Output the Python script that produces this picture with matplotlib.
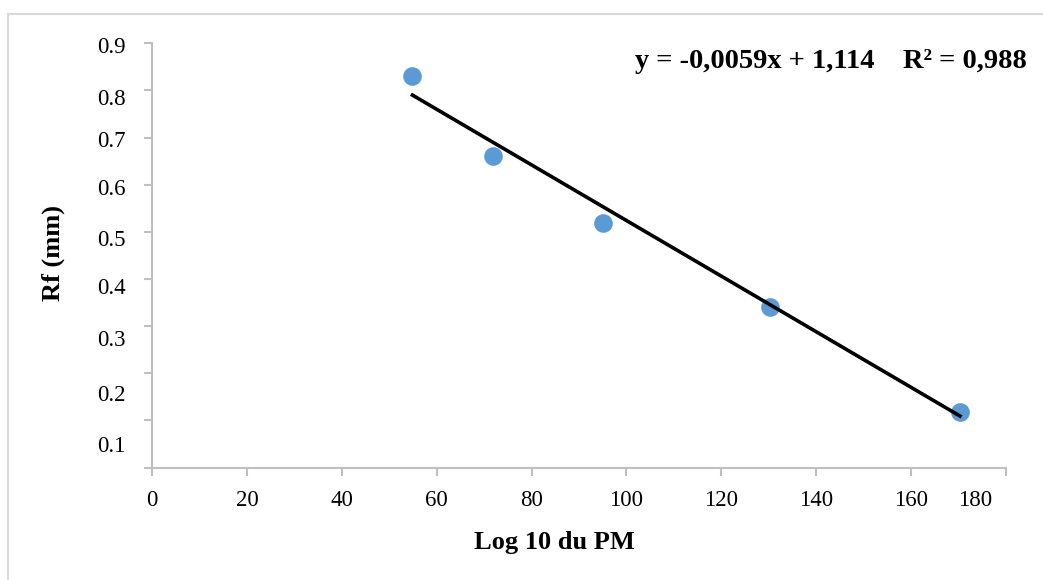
import numpy as np
import matplotlib.pyplot as plt
from matplotlib.lines import Line2D

plt.rcParams['font.family'] = ['Liberation Serif', 'DejaVu Serif']

# data
pm = [54.9, 71.9, 95.1, 130.2, 170.3]
rf = [0.830, 0.660, 0.519, 0.340, 0.117]
slope = -0.0059
intercept = 1.114
eq_text = 'y = -0,0059x + 1,114    R² = 0,988'

x_ticks = [0, 20, 40, 60, 80, 100, 120, 140, 160, 180]
y_ticks = [0.0, 0.1, 0.2, 0.3, 0.4, 0.5, 0.6, 0.7, 0.8, 0.9]
y_labels = ['0.1', '0.2', '0.3', '0.4', '0.5', '0.6', '0.7', '0.8', '0.9']
# labels in the source sit a little off their ticks
y_label_pos = [0.050, 0.159, 0.274, 0.385, 0.486, 0.595, 0.698, 0.786, 0.896]
x_label_pos = [0, 20, 40, 60, 80, 100, 120, 140, 160, 173.5]

W, H = 1043, 580
fig = plt.figure(figsize=(W / 100, H / 100), dpi=100)
ax = fig.add_axes([152 / W, 1 - 467.5 / H, (1006 - 152) / W, (467.5 - 43.3) / H])

grey = '#bfbfbf'
ax.set_xlim(0, 180)
ax.set_ylim(0, 0.9)
for s in ['top', 'right']:
    ax.spines[s].set_visible(False)
for s in ['left', 'bottom']:
    ax.spines[s].set_color(grey)
    ax.spines[s].set_linewidth(1.5)

ax.xaxis.remove_overlapping_locs = False
ax.yaxis.remove_overlapping_locs = False

ax.set_xticks(x_ticks)
ax.set_xticklabels([])
ax.set_yticks(y_ticks)
ax.set_yticklabels([])
ax.tick_params(which='major', direction='out', length=6, width=1.5, color=grey)

ax.set_xticks(x_label_pos, minor=True)
ax.set_xticklabels([str(v) for v in x_ticks], minor=True)
ax.set_yticks(y_label_pos, minor=True)
ax.set_yticklabels(y_labels, minor=True)
ax.tick_params(which='minor', length=0, labelsize=16.5)
ax.tick_params(axis='x', which='minor', pad=16)
ax.tick_params(axis='y', which='minor', pad=19)

ax.scatter(pm, rf, s=180, color='#5b9bd5', zorder=3, linewidths=0)
xl = np.array([min(pm), max(pm)])
ax.plot(xl, slope * xl + intercept, color='black', linewidth=2.6, zorder=4)

fig.text(635 / W, 1 - 61 / H, eq_text, fontsize=20.5, fontweight='bold',
         ha='left', va='center')
fig.text(554 / W, 1 - 542 / H, 'Log 10 du PM', fontsize=19, fontweight='bold',
         ha='center', va='center')
fig.text(53 / W, 1 - 253 / H, 'Rf (mm)', fontsize=19, fontweight='bold',
         ha='center', va='center', rotation=90)

# chart frame (only top and left edges show)
bc = '#d9d9d9'
fig.add_artist(Line2D([8 / W, 1], [1 - 14 / H, 1 - 14 / H], color=bc, linewidth=1.5))
fig.add_artist(Line2D([8 / W, 8 / W], [0, 1 - 14 / H], color=bc, linewidth=1.5))

fig.savefig('out.png', dpi=100)
